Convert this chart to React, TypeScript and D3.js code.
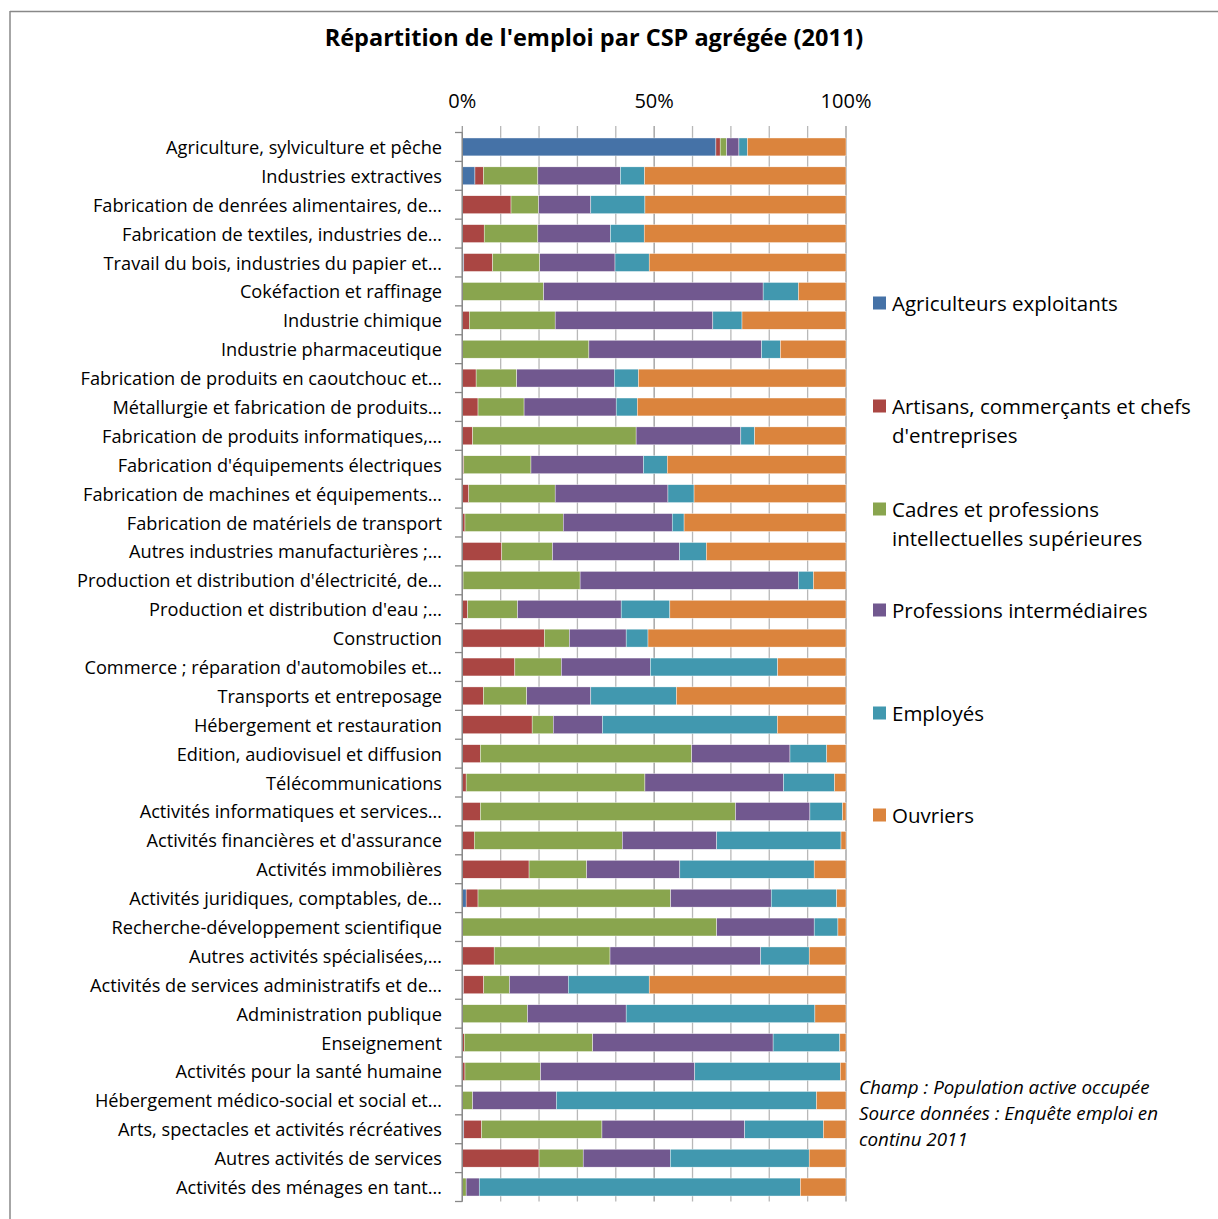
import React from "react";
import * as d3 from "d3";

const categories = [
  "Agriculture, sylviculture et pêche",
  "Industries extractives",
  "Fabrication de denrées alimentaires, de…",
  "Fabrication de textiles, industries de…",
  "Travail du bois, industries du papier et…",
  "Cokéfaction et raffinage",
  "Industrie chimique",
  "Industrie pharmaceutique",
  "Fabrication de produits en caoutchouc et…",
  "Métallurgie et fabrication de produits…",
  "Fabrication de produits informatiques,…",
  "Fabrication d'équipements électriques",
  "Fabrication de machines et équipements…",
  "Fabrication de matériels de transport",
  "Autres industries manufacturières ;…",
  "Production et distribution d'électricité, de…",
  "Production et distribution d'eau ;…",
  "Construction",
  "Commerce ; réparation d'automobiles et…",
  "Transports et entreposage",
  "Hébergement et restauration",
  "Edition, audiovisuel et diffusion",
  "Télécommunications",
  "Activités informatiques et services…",
  "Activités financières et d'assurance",
  "Activités immobilières",
  "Activités juridiques, comptables, de…",
  "Recherche-développement scientifique",
  "Autres activités spécialisées,…",
  "Activités de services administratifs et de…",
  "Administration publique",
  "Enseignement",
  "Activités pour la santé humaine",
  "Hébergement médico-social et social et…",
  "Arts, spectacles et activités récréatives",
  "Autres activités de services",
  "Activités des ménages en tant…",
];

const agriculteurs = [66.1, 3.3, 0, 0, 0.4, 0, 0, 0, 0, 0, 0, 0, 0, 0, 0, 0, 0, 0, 0, 0, 0, 0, 0, 0, 0, 0, 1.0, 0, 0, 0.3, 0, 0, 0, 0, 0.4, 0, 0];
const artisans = [1.1, 2.2, 12.7, 5.7, 7.5, 0, 1.8, 0, 3.6, 4.1, 2.7, 0.4, 1.7, 0.7, 10.3, 0.2, 1.4, 21.4, 13.7, 5.5, 18.2, 4.7, 1.0, 4.7, 3.1, 17.4, 3.1, 0, 8.3, 5.3, 0, 0.5, 0.7, 0, 4.6, 20.0, 0];
const cadres = [1.7, 14.2, 7.2, 14.0, 12.3, 21.2, 22.4, 33.0, 10.6, 12.0, 42.6, 17.5, 22.5, 25.6, 13.2, 30.5, 13.0, 6.5, 12.1, 11.3, 5.5, 55.1, 46.6, 66.5, 38.6, 15.0, 50.2, 66.3, 30.2, 6.7, 17.0, 33.5, 19.7, 2.7, 31.4, 11.5, 1.0];
const intermediaires = [3.2, 21.5, 13.6, 18.9, 19.6, 57.2, 41.1, 45.0, 25.4, 24.0, 27.3, 29.3, 29.4, 28.4, 33.1, 56.9, 27.0, 14.8, 23.2, 16.7, 12.8, 25.6, 36.1, 19.4, 24.6, 24.3, 26.2, 25.4, 39.3, 15.3, 25.7, 47.0, 40.2, 21.8, 37.2, 22.7, 3.4];
const employes = [2.2, 6.3, 14.1, 8.8, 8.9, 9.2, 7.6, 4.9, 6.3, 5.5, 3.6, 6.2, 6.8, 3.1, 7.0, 3.9, 12.7, 5.7, 33.2, 22.3, 45.6, 9.6, 13.3, 8.5, 32.4, 35.0, 17.1, 6.2, 12.6, 21.1, 49.2, 17.4, 37.9, 67.8, 20.5, 36.2, 83.7];
const ouvriers = [25.7, 52.5, 52.4, 52.6, 51.3, 12.4, 27.1, 17.1, 54.1, 54.4, 23.8, 46.6, 39.6, 42.2, 36.4, 8.5, 45.9, 51.6, 17.8, 44.2, 17.9, 5.0, 3.0, 0.9, 1.3, 8.3, 2.4, 2.1, 9.6, 51.3, 8.1, 1.6, 1.5, 7.7, 5.9, 9.6, 11.9];

const seriesKeys = ["agri", "art", "cadres", "inter", "empl", "ouv"];
const seriesLabels = [
  ["Agriculteurs exploitants"],
  ["Artisans, commerçants et chefs", "d'entreprises"],
  ["Cadres et professions", "intellectuelles supérieures"],
  ["Professions intermédiaires"],
  ["Employés"],
  ["Ouvriers"],
];
const seriesColors = ["#4572A7", "#AA4643", "#89A54E", "#71588F", "#4198AF", "#DB843D"];
const legendY = [303, 406, 509, 610, 713, 815];
const xTicks = [0, 50, 100];
const gridTicks = [0, 10, 20, 30, 40, 50, 60, 70, 80, 90, 100];
const noteLines = ["Champ : Population active occupée", "Source données : Enquête emploi en", "continu 2011"];
const title = "Répartition de l'emploi par CSP agrégée (2011)";

const FONT = "'Open Sans', sans-serif";

export default function App() {
  const W = 1218, H = 1219;
  const rows = categories.map((c, i) => ({
    cat: c,
    agri: agriculteurs[i],
    art: artisans[i],
    cadres: cadres[i],
    inter: intermediaires[i],
    empl: employes[i],
    ouv: ouvriers[i],
  }));
  const stack = d3.stack<any>().keys(seriesKeys).offset(d3.stackOffsetExpand);
  const layers = stack(rows);

  const x = d3.scaleLinear().domain([0, 1]).range([462.3, 846]);
  const xp = d3.scaleLinear().domain([0, 100]).range([462.3, 846]);
  const y = d3.scaleBand<string>().domain(categories).range([132.5, 1201.5]).paddingInner(0.38).paddingOuter(0.19);
  const step = y.step();
  const top = 132.5, bottom = 1201.5;

  return (
    <svg width={W} height={H} style={{ position: "absolute", left: 0, top: 0, background: "#fff" }} fontFamily={FONT}>
      <rect x={0} y={0} width={W} height={H} fill="#fff" />
      {/* frame */}
      <line x1={10} y1={11.5} x2={W} y2={11.5} stroke="#888" strokeWidth={1.5} />
      <line x1={10} y1={11} x2={10} y2={H} stroke="#888" strokeWidth={1.5} />
      <text x={594} y={37} textAnchor="middle" dominantBaseline="central" fontSize={23.5} fontWeight="bold" fill="#000">{title}</text>

      {/* grid */}
      {gridTicks.map((t) => (
        <line key={t} x1={xp(t)} x2={xp(t)} y1={126} y2={bottom} stroke={t % 50 === 0 ? "#999" : "#b8b8b8"} strokeWidth={1.3} />
      ))}
      {xTicks.map((t) => (
        <text key={t} x={xp(t)} y={100} textAnchor="middle" dominantBaseline="central" fontSize={20} fill="#000">{t}%</text>
      ))}

      {/* bars */}
      {layers.map((layer, li) => (
        <g key={layer.key} fill={seriesColors[li]}>
          {layer.map((d, i) => {
            const w = x(d[1]) - x(d[0]);
            if (w <= 0) return null;
            return (
              <rect key={i} x={x(d[0])} y={y(categories[i])} width={w} height={y.bandwidth()} stroke="#fff" strokeWidth={0.4} />
            );
          })}
        </g>
      ))}

      {/* y axis */}
      <line x1={462.3} x2={462.3} y1={top} y2={bottom} stroke="#888" strokeWidth={1.3} />
      {d3.range(categories.length + 1).map((i) => (
        <line key={i} x1={455} x2={462.3} y1={top + i * step} y2={top + i * step} stroke="#888" strokeWidth={1.3} />
      ))}
      {categories.map((c) => (
        <text key={c} x={442} y={(y(c) as number) + y.bandwidth() / 2} textAnchor="end" dominantBaseline="central" fontSize={18.2} fill="#000">{c}</text>
      ))}

      {/* legend */}
      {seriesLabels.map((lines, i) => (
        <g key={i}>
          <rect x={873} y={legendY[i] - 6.5} width={13} height={13} fill={seriesColors[i]} />
          {lines.map((l, j) => (
            <text key={j} x={892} y={legendY[i] + j * 29} dominantBaseline="central" fontSize={20.5} fill="#000">{l}</text>
          ))}
        </g>
      ))}

      {/* note */}
      {noteLines.map((l, i) => (
        <text key={i} x={859} y={1087 + i * 26} dominantBaseline="central" fontSize={18.8} fontStyle="italic" fill="#000">{l}</text>
      ))}
    </svg>
  );
}
